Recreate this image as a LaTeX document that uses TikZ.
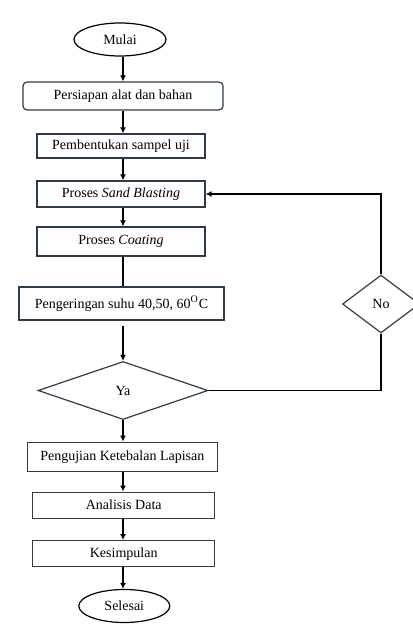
\documentclass[tikz,border=0pt]{standalone}
\usepackage{fontspec}
\setmainfont{Liberation Serif}
\usetikzlibrary{shapes.geometric,arrows.meta,calc}
\begin{document}
\begin{tikzpicture}[x=0.5pt,y=-0.5pt,
  font=\fontsize{7}{8.4}\selectfont,
  box/.style={draw=boxc,line width=0.6pt,rectangle,inner sep=0pt,align=center},
  term/.style={draw=black,line width=0.6pt,ellipse,inner sep=0pt},
  dec/.style={draw=boxc,line width=0.6pt,diamond,inner sep=0pt},
  arr/.style={draw=black,line width=0.6pt,-{Latex[length=3pt,width=3pt]}},
  ln/.style={draw=black,line width=0.6pt}]
\definecolor{boxc}{RGB}{45,60,75}
\useasboundingbox (0,0) rectangle (412,625);
\coordinate (sp) at (123,0);
\node[term,minimum width=46pt,minimum height=16.5pt] (mulai) at (120,39.5) {Mulai};
\node[box,rounded corners=2pt,minimum width=100pt,minimum height=14pt] (persiapan) at (123,96) {Persiapan alat dan bahan};
\node[box,minimum width=84pt,minimum height=12pt] (pembentukan) at (121,146) {Pembentukan sampel uji};
\node[box,minimum width=84pt,minimum height=13pt] (sand) at (121,194) {Proses \textit{Sand Blasting}};
\node[box,minimum width=84pt,minimum height=14.5pt] (coating) at (121,241.5) {Proses \textit{Coating}};
\node[box,minimum width=102.5pt,minimum height=16.5pt] (pengeringan) at (121.5,303.5) {Pengeringan suhu 40,50, 60\textsuperscript{O}C};
\node[dec,minimum width=85pt,minimum height=29pt] (ya) at (123,390.5) {Ya};
\node[dec,minimum width=38.5pt,minimum height=29pt] (no) at (381,304) {No};
\node[box,minimum width=95pt,minimum height=14.5pt] (pengujian) at (122.3,456.7) {Pengujian Ketebalan Lapisan};
\node[box,minimum width=91pt,minimum height=13pt] (analisis) at (123.7,505.2) {Analisis Data};
\node[box,minimum width=91pt,minimum height=13pt] (kesimpulan) at (123.7,553.7) {Kesimpulan};
\node[term,minimum width=45.5pt,minimum height=16.5pt] (selesai) at (124.3,606) {Selesai};
\draw[arr] (mulai.south -| sp) -- (persiapan.north -| sp);
\draw[arr] (persiapan.south -| sp) -- (pembentukan.north -| sp);
\draw[arr] (pembentukan.south -| sp) -- (sand.north -| sp);
\draw[arr] (sand.south -| sp) -- (coating.north -| sp);
\draw[ln] (coating.south -| sp) -- (pengeringan.north -| sp);
\coordinate (g) at ($(pengeringan.south -| sp)+(0,5)$);
\draw[arr] (g) -- (ya.north);
\draw[arr] (ya.south) -- (pengujian.north -| ya.south);
\draw[arr] (pengujian.south -| sp) -- (analisis.north -| sp);
\draw[arr] (analisis.south -| sp) -- (kesimpulan.north -| sp);
\draw[arr] (kesimpulan.south -| sp) -- (selesai.north -| sp);
\draw[ln] (ya.east) -- (ya.east -| no.south) -- (no.south);
\draw[arr] (no.north) |- (sand.east);
\end{tikzpicture}
\end{document}
